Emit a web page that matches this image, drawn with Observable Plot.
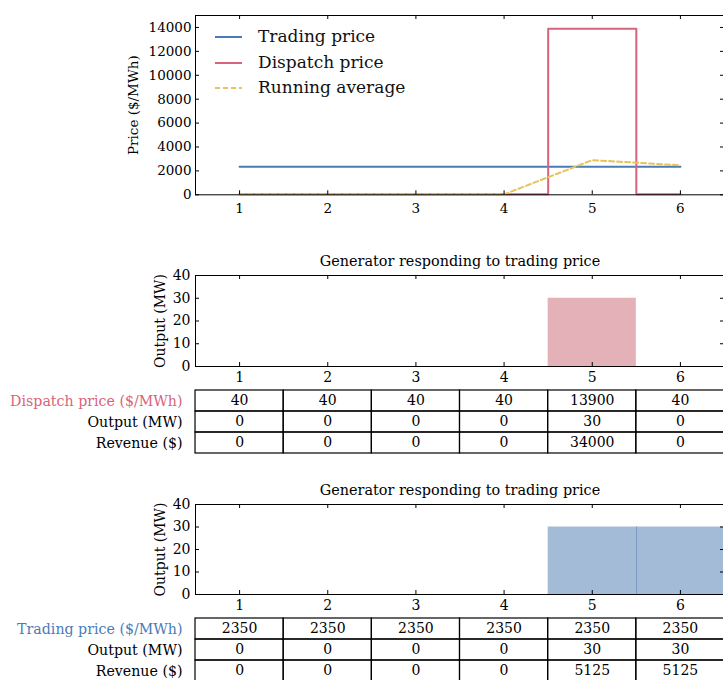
<!DOCTYPE html>
<html><head><meta charset="utf-8">
<script src="https://cdn.jsdelivr.net/npm/d3@7"></script>
<script src="https://cdn.jsdelivr.net/npm/@observablehq/plot@0.6"></script>
<style>
html,body{margin:0;padding:0;overflow:hidden;background:#fff;}
#wrap{position:relative;width:760px;height:680px;overflow:hidden;font-family:"DejaVu Serif",serif;}
#wrap svg{max-width:none !important;}
#wrap > .abs{position:absolute;left:0;}
.leg{position:absolute;font-size:17px;color:#111;white-space:nowrap;}
</style></head><body><div id="wrap"></div>
<script>
// ---- data ----
const intervals = [1, 2, 3, 4, 5, 6];
const tradingPrice = [2350, 2350, 2350, 2350, 2350, 2350];
const dispatchPrice = [40, 40, 40, 40, 13900, 40];
const runningAverage = [40, 40, 40, 40, 2900, 2470];
const dispatchOutput = [0, 0, 0, 0, 30, 0];
const dispatchRevenue = [0, 0, 0, 0, 34000, 0];
const tradingOutput = [0, 0, 0, 0, 30, 30];
const tradingRevenue = [0, 0, 0, 0, 5125, 5125];
const priceTicks = [0, 2000, 4000, 6000, 8000, 10000, 12000, 14000];
const outputTicks = [0, 10, 20, 30, 40];
const seriesNames = ["Trading price", "Dispatch price", "Running average"];
const panelTitles = ["Generator responding to trading price", "Generator responding to trading price"];
const priceLabel = "Price ($/MWh)";
const outputLabel = "Output (MW)";
const rowLabelsDispatch = ["Dispatch price ($/MWh)", "Output (MW)", "Revenue ($)"];
const rowLabelsTrading = ["Trading price ($/MWh)", "Output (MW)", "Revenue ($)"];

// ---- style ----
const BLUE = "#4a7bb7", RED = "#d8647c", YELLOW = "#e6c35c";
const BLUE_BAR = "#a3bbd6", RED_BAR = "#e4b1b9";
const W = 730, ML = 195, MR = 6;
const FONT = "DejaVu Serif";
const plain = d3.format("d");
const wrap = document.getElementById("wrap");

function place(el, top) { el.classList.add("abs"); el.style.top = top + "px"; wrap.appendChild(el); }

function inward(xt, yt, plotW, plotH) {
  const L = 4;
  return [
    Plot.tickX(xt, {x: d => d, insetTop: plotH - L, stroke: "#000"}),
    Plot.tickX(xt, {x: d => d, insetBottom: plotH - L, stroke: "#000"}),
    Plot.tickY(yt, {y: d => d, insetRight: plotW - L, stroke: "#000"}),
    Plot.tickY(yt, {y: d => d, insetLeft: plotW - L, stroke: "#000"})
  ];
}

// ---- top price plot ----
const priceData = intervals.map((x, i) => ({x, trading: tradingPrice[i], dispatch: dispatchPrice[i], avg: runningAverage[i]}));
{
  const mt = 15, plotH = 179.3, H = 228;
  const p = Plot.plot({
    width: W, height: H, marginLeft: ML, marginRight: MR, marginTop: mt, marginBottom: H - mt - plotH,
    style: {fontFamily: FONT, fontSize: "13.5px", color: "#000", background: "transparent", overflow: "visible"},
    x: {domain: [0.5, 6.5]},
    y: {domain: [0, 15000]},
    marks: [
      Plot.line(priceData, {x: "x", y: "trading", stroke: BLUE, strokeWidth: 2}),
      Plot.line(priceData, {x: "x", y: "dispatch", curve: "step", stroke: RED, strokeWidth: 2}),
      Plot.line(priceData, {x: "x", y: "avg", stroke: YELLOW, strokeWidth: 2, strokeDasharray: "5,3"}),
      Plot.frame({stroke: "#000", strokeWidth: 1}),
      ...inward(intervals, priceTicks, W - ML - MR, plotH),
      Plot.axisX(intervals, {tickSize: 0, tickPadding: 9, fontSize: 13.5, label: null, tickFormat: plain}),
      Plot.axisY(priceTicks, {tickSize: 0, tickPadding: 4, fontSize: 13.5, label: null, tickFormat: plain}),
      Plot.text([priceLabel], {frameAnchor: "left", textAnchor: "middle", lineAnchor: "middle", rotate: -90, dx: -62, text: d => d, fontSize: 13.5})
    ]
  });
  place(p, 0);
  // legend
  const colors = [BLUE, RED, YELLOW];
  const ys = [37, 63, 88];
  seriesNames.forEach((name, i) => {
    const ln = document.createElementNS("http://www.w3.org/2000/svg", "svg");
    ln.setAttribute("width", 30); ln.setAttribute("height", 6);
    ln.style.position = "absolute"; ln.style.left = "214px"; ln.style.top = (ys[i] - 3) + "px";
    ln.innerHTML = `<line x1="1" y1="3" x2="28" y2="3" stroke="${colors[i]}" stroke-width="2" ${i === 2 ? 'stroke-dasharray="5,3"' : ''}/>`;
    wrap.appendChild(ln);
    const t = document.createElement("div");
    t.className = "leg"; t.textContent = name;
    t.style.left = "258px"; t.style.top = (ys[i] - 11) + "px";
    wrap.appendChild(t);
  });
}

// ---- output panels ----
function panel(top, title, outputs, color, plotH) {
  const mt = 25, H = plotH + mt + 24;
  const data = intervals.map((x, i) => ({x, x1: x - 0.5, x2: x + 0.5, out: outputs[i]}));
  const joins = intervals.slice(0, -1).filter((x, i) => outputs[i] > 0 && outputs[i + 1] > 0).map(x => x + 0.5);
  const p = Plot.plot({
    width: W, height: H, marginLeft: ML, marginRight: MR, marginTop: mt, marginBottom: H - mt - plotH,
    style: {fontFamily: FONT, fontSize: "14px", color: "#000", background: "transparent", overflow: "visible"},
    x: {domain: [0.5, 6.5]},
    y: {domain: [0, 40]},
    marks: [
      Plot.rectY(data, {x1: "x1", x2: "x2", y: "out", fill: color}),
      Plot.ruleX(joins, {x: d => d, y1: 0, y2: 30, stroke: BLUE, strokeOpacity: 0.6}),
      Plot.frame({stroke: "#000", strokeWidth: 1}),
      ...inward(intervals, outputTicks, W - ML - MR, plotH),
      Plot.axisX(intervals, {tickSize: 0, tickPadding: 6, fontSize: 14, label: null, tickFormat: plain}),
      Plot.axisY(outputTicks, {tickSize: 0, tickPadding: 5, fontSize: 14, label: null, tickFormat: plain}),
      Plot.text([outputLabel], {frameAnchor: "left", textAnchor: "middle", lineAnchor: "middle", rotate: -90, dx: -35, text: d => d, fontSize: 14}),
      Plot.text([title], {frameAnchor: "top", lineAnchor: "middle", dy: -14, text: d => d, fontSize: 14.4})
    ]
  });
  place(p, top - mt);
}

function table(top, rowH, labels, firstColor, rows) {
  const H = rowH * 3 + 1;
  const cells = rows.flatMap((vals, r) => vals.map((v, i) => ({row: labels[r], x: intervals[i], x1: intervals[i] - 0.5, x2: intervals[i] + 0.5, v})));
  const p = Plot.plot({
    width: W, height: H, marginLeft: ML, marginRight: MR, marginTop: 0.5, marginBottom: 0.5,
    style: {fontFamily: FONT, fontSize: "14px", color: "#000", background: "transparent", overflow: "visible"},
    x: {domain: [0.5, 6.5], axis: null},
    y: {domain: labels, axis: null, padding: 0},
    marks: [
      Plot.barX(cells, {x1: "x1", x2: "x2", y: "row", fill: "none", stroke: "#000", strokeWidth: 1.2, inset: 0}),
      Plot.text(cells, {x: "x", y: "row", text: d => String(d.v), fontSize: 14}),
      Plot.text(labels.slice(0, 1), {y: d => d, text: d => d, frameAnchor: "left", textAnchor: "end", dx: -13, fill: firstColor, fontSize: 14.2}),
      Plot.text(labels.slice(1), {y: d => d, text: d => d, frameAnchor: "left", textAnchor: "end", dx: -13, fill: "#000", fontSize: 14.2})
    ]
  });
  place(p, top);
}

panel(275, panelTitles[0], dispatchOutput, RED_BAR, 91);
table(389, 21.2, rowLabelsDispatch, RED, [dispatchPrice, dispatchOutput, dispatchRevenue]);
panel(504, panelTitles[1], tradingOutput, BLUE_BAR, 90);
table(616.5, 21.6, rowLabelsTrading, BLUE, [tradingPrice, tradingOutput, tradingRevenue]);
</script></body></html>
